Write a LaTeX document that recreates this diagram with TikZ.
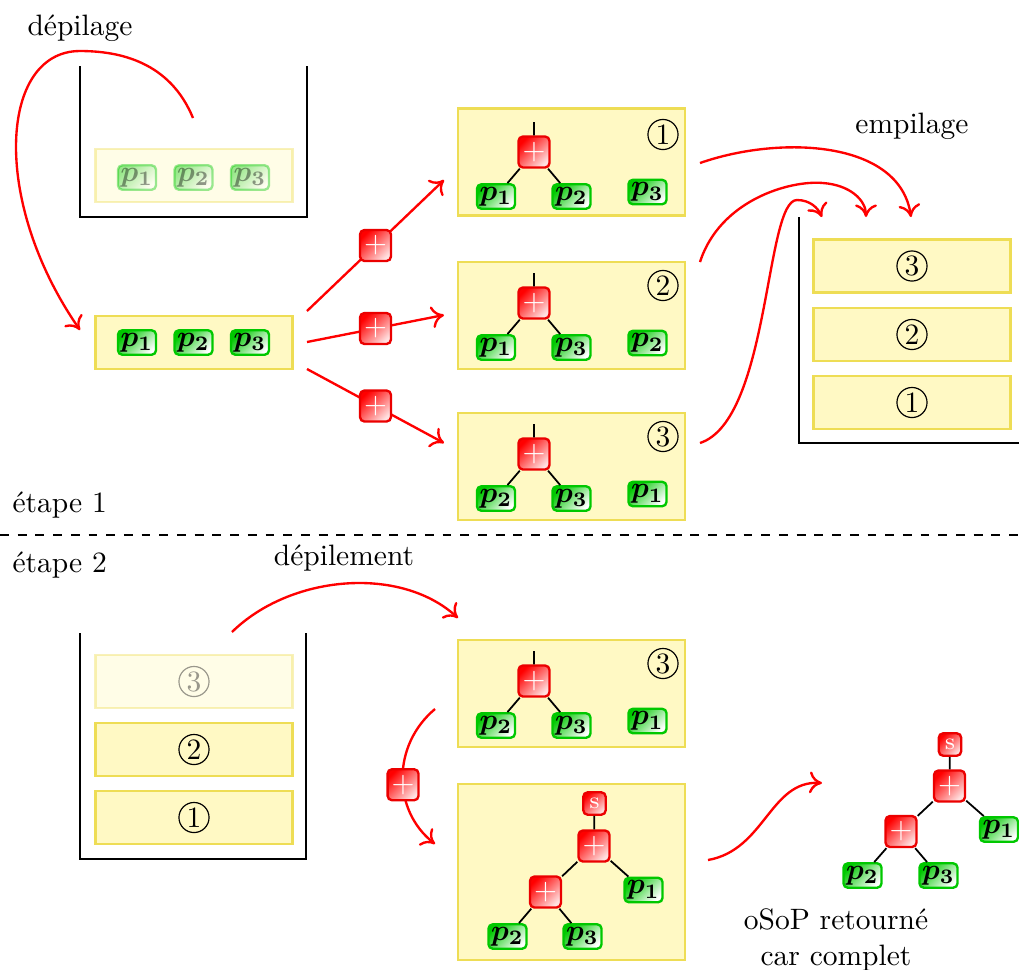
\documentclass[tikz,border=0pt]{standalone}
\usepackage{amsmath,amssymb}
\usepackage{xcolor}
\usepackage{tikz}
\usetikzlibrary{arrows.meta}

\definecolor{slotfill}{RGB}{255,249,196}
\definecolor{slotline}{RGB}{238,221,85}
\definecolor{leafgreen}{RGB}{0,200,0}
\definecolor{opred}{RGB}{235,0,0}

\begin{document}
\begin{tikzpicture}[
   x=0.3389pt,y=-0.3389pt,
   slot/.style={draw=slotline,fill=slotfill,thick,minimum width=66.8pt,
                minimum height=18pt,inner sep=0pt},
   panel/.style={slot,minimum width=76.9pt,minimum height=36.3pt},
   bigpanel/.style={slot,minimum width=76.9pt,minimum height=59.6pt},
   leaf/.style={draw=leafgreen,thick,rounded corners=1.5pt,
                top color=leafgreen,bottom color=white,shading angle=45,
                minimum width=12.9pt,minimum height=8.3pt,inner sep=0.5pt},
   op/.style={draw=opred,thick,rounded corners=1.5pt,
              top color=red,bottom color=red!12,shading angle=45,
              text=white,minimum size=10.5pt,inner sep=0pt},
   sop/.style={op,minimum size=7.6pt,font=\footnotesize},
   num/.style={circle,draw,minimum size=10.2pt,inner sep=0pt},
   faded/.style={opacity=0.4},
   flow/.style={->,red,thick},
   stack/.style={thick},
   link/.style={semithick},
   lbl/.style={inner sep=0pt,anchor=base},
   >={To[length=1.5mm,width=2.6mm]}]
  \useasboundingbox (0,0) rectangle (1019,969);

  % etape 1 : la pile de depart
  \draw[stack] (80,66) -- (80,217) -- (307,217) -- (307,66);
  \begin{scope}[faded]
    \node[slot] (old) at (194,175.5) {};
    \node[leaf] (old1) at (137,177.5) {$\boldsymbol{p_1}$};
    \node[leaf] (old2) at (193.5,177.5) {$\boldsymbol{p_2}$};
    \node[leaf] (old3) at (250,177.5) {$\boldsymbol{p_3}$};
  \end{scope}
  \node[lbl] (depil) at (80,35) {dépilage};
  \node[slot] (cur) at (194,342.5) {};
  \node[leaf] (cur1) at (137,342.5) {$\boldsymbol{p_1}$};
  \node[leaf] (cur2) at (193.5,342.5) {$\boldsymbol{p_2}$};
  \node[leaf] (cur3) at (250,342.5) {$\boldsymbol{p_3}$};
  \coordinate (popfrom) at (193,118);
  \coordinate (popto) at (80,330);
  \draw[flow] (popfrom) .. controls (170,62) and (120,51) .. (80,51)
     .. controls (0,51) and (-10,200) .. (popto);

  % les trois combinaisons
  \node[panel] (pan1) at (571.5,162) {};
  \node[num] (n1) at (663,134.5) {1};
  \coordinate (top1) at (534,122);
  \node[op] (op1) at (534,152) {$+$};
  \node[leaf] (a1) at (496,196.5) {$\boldsymbol{p_1}$};
  \node[leaf] (b1) at (571.5,196.5) {$\boldsymbol{p_2}$};
  \node[leaf] (c1) at (647.5,192) {$\boldsymbol{p_3}$};
  \draw[link] (top1) -- (op1) (op1) -- (a1) (op1) -- (b1);

  \node[panel] (pan2) at (571.5,315.5) {};
  \node[num] (n2) at (663,285.5) {2};
  \coordinate (top2) at (534,273);
  \node[op] (op2) at (534,303) {$+$};
  \node[leaf] (a2) at (496,347.5) {$\boldsymbol{p_1}$};
  \node[leaf] (b2) at (571.5,347.5) {$\boldsymbol{p_3}$};
  \node[leaf] (c2) at (647.5,343) {$\boldsymbol{p_2}$};
  \draw[link] (top2) -- (op2) (op2) -- (a2) (op2) -- (b2);

  \node[panel] (pan3) at (571.5,466.5) {};
  \node[num] (n3) at (663,436.5) {3};
  \coordinate (top3) at (534,424);
  \node[op] (op3) at (534,454) {$+$};
  \node[leaf] (a3) at (496,498.5) {$\boldsymbol{p_2}$};
  \node[leaf] (b3) at (571.5,498.5) {$\boldsymbol{p_3}$};
  \node[leaf] (c3) at (647.5,494) {$\boldsymbol{p_1}$};
  \draw[link] (top3) -- (op3) (op3) -- (a3) (op3) -- (b3);

  \coordinate (fan1) at (307,311);
  \coordinate (fan2) at (307,342);
  \coordinate (fan3) at (307,369);
  \coordinate (hit1) at (444,180);
  \coordinate (hit2) at (444,315);
  \coordinate (hit3) at (444,443);
  \draw[flow] (fan1) -- node[op] (plus1) {$+$} (hit1);
  \draw[flow] (fan2) -- node[op] (plus2) {$+$} (hit2);
  \draw[flow] (fan3) -- node[op] (plus3) {$+$} (hit3);

  % la pile d'arrivee
  \draw[stack] (799,217) -- (799,443) -- (1019,443);
  \node[slot] (in3) at (912,266) {};
  \node[num] (in3n) at (912,266) {3};
  \node[slot] (in2) at (912,334.5) {};
  \node[num] (in2n) at (912,334.5) {2};
  \node[slot] (in1) at (912,402.5) {};
  \node[num] (in1n) at (912,402.5) {1};
  \node[lbl] (empil) at (912,133) {empilage};
  \coordinate (out1) at (700,163);
  \coordinate (out2) at (700,262);
  \coordinate (out3) at (700,443);
  \coordinate (drop1) at (911,217);
  \coordinate (drop2) at (866,217);
  \coordinate (drop3) at (822,217);
  \draw[flow] (out1) .. controls (780,135) and (900,140) .. (drop1);
  \draw[flow] (out2) .. controls (720,200) and (790,180) .. (823,183)
     .. controls (850,185) and (866,200) .. (drop2);
  \draw[flow] (out3) .. controls (770,420) and (765,200) .. (797,200)
     .. controls (810,200) and (818,208) .. (drop3);

  \node[lbl,anchor=base west] (step1) at (12,512) {étape 1};
  \draw[dashed] (0,535) -- (1019,535);
  \node[lbl,anchor=base west] (step2) at (12,572) {étape 2};

  % etape 2
  \draw[stack] (80,633) -- (80,859) -- (306,859) -- (306,633);
  \begin{scope}[faded]
    \node[slot] (pop3) at (194,681.5) {};
    \node[num] (pop3n) at (194,681.5) {3};
  \end{scope}
  \node[slot] (pop2) at (194,749.5) {};
  \node[num] (pop2n) at (194,749.5) {2};
  \node[slot] (pop1) at (194,817.5) {};
  \node[num] (pop1n) at (194,817.5) {1};
  \node[lbl] (depilm) at (344,565) {dépilement};
  \coordinate (liftfrom) at (232,632);
  \coordinate (liftto) at (458,618);
  \draw[flow] (liftfrom) .. controls (290,575) and (400,565) .. (liftto);

  \node[panel] (pan4) at (571.5,693.5) {};
  \node[num] (n4) at (663,663.5) {3};
  \coordinate (top4) at (534,651);
  \node[op] (op4) at (534,681) {$+$};
  \node[leaf] (a4) at (496,725.5) {$\boldsymbol{p_2}$};
  \node[leaf] (b4) at (571.5,725.5) {$\boldsymbol{p_3}$};
  \node[leaf] (c4) at (647.5,721) {$\boldsymbol{p_1}$};
  \draw[link] (top4) -- (op4) (op4) -- (a4) (op4) -- (b4);

  \coordinate (joinfrom) at (435,709);
  \coordinate (jointo) at (435,844);
  \draw[flow] (joinfrom) .. controls (392,745) and (392,810) ..
     node[op,pos=0.55] (plus4) {$+$} (jointo);

  \node[bigpanel] (pan5) at (571.5,872) {};
  \node[sop] (s5) at (594.5,803.5) {s};
  \node[op] (op5) at (594,846) {$+$};
  \node[op] (op6) at (545.5,892) {$+$};
  \node[leaf] (c5) at (643.5,890) {$\boldsymbol{p_1}$};
  \node[leaf] (a5) at (507.5,936.5) {$\boldsymbol{p_2}$};
  \node[leaf] (b5) at (582.5,936.5) {$\boldsymbol{p_3}$};
  \draw[link] (s5) -- (op5) (op5) -- (op6) (op5) -- (c5)
     (op6) -- (a5) (op6) -- (b5);

  % resultat
  \coordinate (endfrom) at (708,860);
  \coordinate (endto) at (822,783);
  \draw[flow] (endfrom) .. controls (765,850) and (770,780) .. (endto);
  \node[sop] (s6) at (950,744.5) {s};
  \node[op] (op7) at (949.5,786) {$+$};
  \node[op] (op8) at (901,831.5) {$+$};
  \node[leaf] (c6) at (999,829.5) {$\boldsymbol{p_1}$};
  \node[leaf] (a6) at (862.5,875.5) {$\boldsymbol{p_2}$};
  \node[leaf] (b6) at (938.5,875.5) {$\boldsymbol{p_3}$};
  \draw[link] (s6) -- (op7) (op7) -- (op8) (op7) -- (c6)
     (op8) -- (a6) (op8) -- (b6);
  \node[align=center,inner sep=0pt] (result) at (836,940)
     {oSoP retourné\\car complet};
\end{tikzpicture}
\end{document}
